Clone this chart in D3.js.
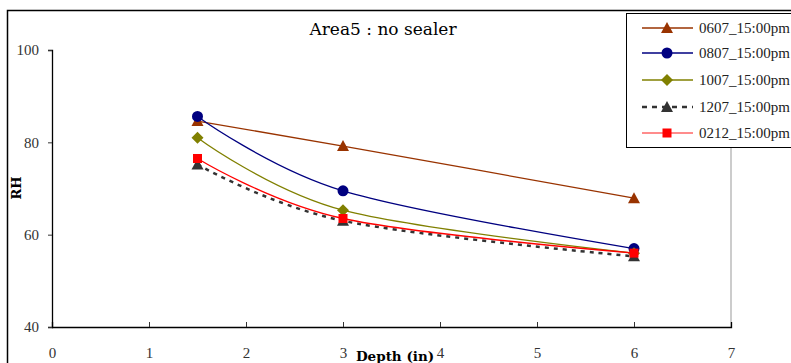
<!DOCTYPE html>
<html><head><meta charset="utf-8">
<script src="https://cdn.jsdelivr.net/npm/d3@7"></script>
<style>body{margin:0;background:#fff}svg{display:block}</style>
</head><body>
<script>
const depths = [1.5, 3, 6];
const seriesNames = ["0607_15:00pm","0807_15:00pm","1007_15:00pm","1207_15:00pm","0212_15:00pm"];
const s0607 = [84.6, 79.2, 67.9];
const s0807 = [85.6, 69.5, 57.0];
const s1007 = [81.0, 65.3, 56.0];
const s1207 = [75.2, 63.0, 55.3];
const s0212 = [76.5, 63.5, 56.0];
const xTicks = [0,1,2,3,4,5,6,7];
const yTicks = [40,60,80,100];
const colors = ["#993300","#000080","#808000","#333333","#ff0000"];
const markers = ["triangle","circle","diamond","triangle","square"];
const values = [s0607, s0807, s1007, s1207, s0212];

const W = 791, H = 363;
const svg = d3.select("body").append("svg").attr("width",W).attr("height",H);
const font = "Liberation Serif";
const font2 = "Times New Roman";
const fontWide = "DejaVu Serif";

svg.append("path").attr("d","M7.5,"+(H+5)+" V10.5 H"+(W+5)).attr("fill","none").attr("stroke","#000").attr("stroke-width",1.5);

const x = d3.scaleLinear().domain([0,7]).range([52,731]);
const y = d3.scaleLinear().domain([40,100]).range([327,50]);

svg.append("line").attr("x1",731).attr("x2",731).attr("y1",50).attr("y2",327).attr("stroke","#999").attr("stroke-width",1);

const gx = svg.append("g").attr("transform","translate(0,327)")
  .call(d3.axisBottom(x).tickValues(xTicks).tickSize(-5).tickPadding(20).tickFormat(d3.format("d")));
const gy = svg.append("g").attr("transform","translate(52,0)")
  .call(d3.axisLeft(y).tickValues(yTicks).tickSize(4).tickPadding(9));
[gx,gy].forEach(g=>{
  g.attr("font-family",font);
  g.select(".domain").attr("stroke","#000").attr("stroke-width",1.3);
  g.selectAll(".tick line").attr("stroke","#333");
  g.selectAll(".tick text").attr("font-family",font).attr("font-size",15).attr("fill","#333");
});
gx.selectAll(".tick").filter(d=>d===0||d===7).select("line").remove();

svg.append("text").attr("x",383).attr("y",35).attr("text-anchor","middle")
  .attr("font-family",fontWide).attr("font-size",17).text("Area5 : no sealer");
svg.append("text").attr("transform","translate(21,188) rotate(-90)").attr("text-anchor","middle")
  .attr("font-family",fontWide).attr("font-size",13).attr("font-weight","bold").text("RH");
svg.append("text").attr("x",395).attr("y",361).attr("text-anchor","middle")
  .attr("font-family",fontWide).attr("font-size",13.5).attr("font-weight","bold").text("Depth (in)");

function drawMarker(g, type, cx, cy, color){
  if(type==="circle") g.append("circle").attr("cx",cx).attr("cy",cy).attr("r",5.5).attr("fill",color);
  else if(type==="triangle") g.append("path").attr("d",`M${cx},${cy-6} L${cx+6},${cy+5} L${cx-6},${cy+5}Z`).attr("fill",color);
  else if(type==="diamond") g.append("path").attr("d",`M${cx},${cy-6} L${cx+6},${cy} L${cx},${cy+6} L${cx-6},${cy}Z`).attr("fill",color);
  else if(type==="square") g.append("rect").attr("x",cx-4.5).attr("y",cy-4.5).attr("width",9).attr("height",9).attr("fill",color);
}

const line = d3.line().x(d=>x(d[0])).y(d=>y(d[1])).curve(d3.curveCardinal.tension(0));
values.forEach((vals,i)=>{
  const pts = depths.map((d,j)=>[d,vals[j]]);
  const g = svg.append("g");
  g.append("path").attr("d",line(pts)).attr("fill","none").attr("stroke",colors[i])
    .attr("stroke-width", i===3?2.5:1.3).attr("stroke-dasharray", i===3?"4,5":null);
  pts.forEach(p=>drawMarker(g, markers[i], x(p[0]), y(p[1]), colors[i]));
});

const lg = svg.append("g");
lg.append("rect").attr("x",626.5).attr("y",13.5).attr("width",200).attr("height",134)
  .attr("fill","#fff").attr("stroke","#000").attr("stroke-width",1);
const rowY = [28,53,80,107,133];
seriesNames.forEach((n,i)=>{
  const yy = rowY[i];
  lg.append("line").attr("x1",642).attr("x2",693).attr("y1",yy).attr("y2",yy)
    .attr("stroke", i===4?"#ff6666":colors[i]).attr("stroke-width", i===3?2.5:1.5)
    .attr("stroke-dasharray", i===3?"5,5":null);
  drawMarker(lg, markers[i], 667, yy, colors[i]);
  lg.append("text").attr("x",699).attr("y",yy+5).attr("font-family",font2).attr("font-size",15).attr("fill","#222").text(n);
});
</script>
</body></html>
